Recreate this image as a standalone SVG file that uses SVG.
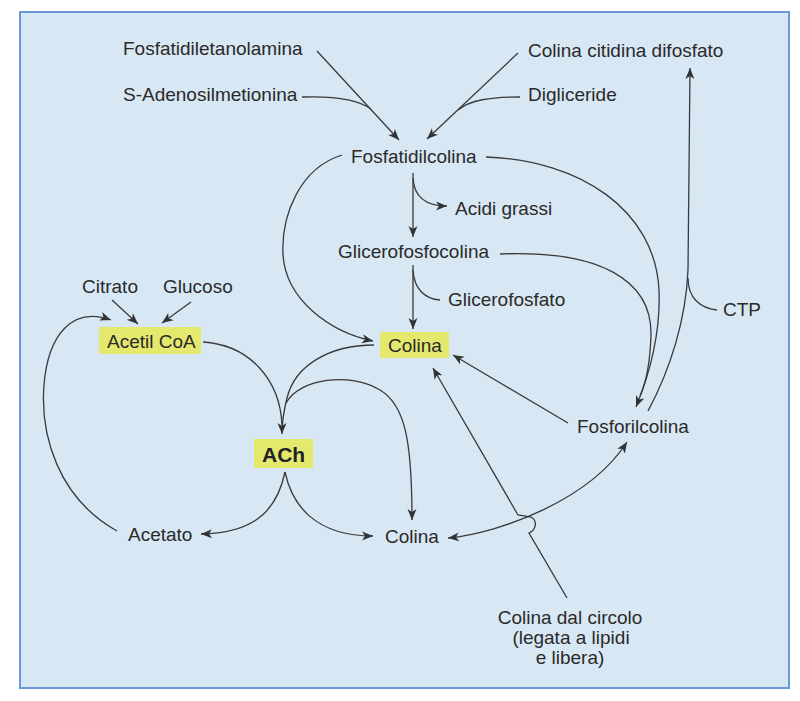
<svg xmlns="http://www.w3.org/2000/svg" width="800" height="701" viewBox="0 0 800 701">
<style>
.t{font-family:"Liberation Sans",Arial,sans-serif;font-size:19px;fill:#2a2a2a}
.b{font-family:"Liberation Sans",Arial,sans-serif;font-size:21px;font-weight:bold;fill:#222}
.c{fill:none;stroke:#3a3a3a;stroke-width:1.3}
.a{marker-end:url(#ah)}
.box{fill:#e4e96e}
</style>
<defs>
<marker id="ah" markerUnits="userSpaceOnUse" markerWidth="12" markerHeight="10" refX="11" refY="4.5" orient="auto-start-reverse" viewBox="0 0 12 9">
<path d="M0,0 L11,4.5 L0,9 L3,4.5 z" fill="#333"/>
</marker>
</defs>
<rect x="0" y="0" width="800" height="701" fill="#ffffff"/>
<rect x="20" y="12" width="769" height="676" fill="#d8e7f4" stroke="#6a98d8" stroke-width="2"/>

<g id="connectors">
<path class="c a" d="M317,51 L399,140"/>
<path class="c" d="M302,97 C330,96 356,98 371,109"/>
<path class="c a" d="M518,53 L427,139"/>
<path class="c" d="M520,97 C490,97 470,100 458,110"/>
<path class="c a" d="M413,173 L413,237"/>
<path class="c a" d="M413,178 C414,196 425,206 447,206"/>
<path class="c a" d="M413,265 L413,329"/>
<path class="c" d="M413,270 C414,289 425,299 440,300"/>
<path class="c a" d="M342,155 C300,168 281,215 283,255 C286,300 330,332 373,341"/>
<path class="c a" d="M486,157 C580,160 655,210 659,290 C661,340 645,385 636,407"/>
<path class="c" d="M500,254 C600,250 652,280 651,335 C650,365 645,385 640,396"/>
<path class="c a" d="M648,411 C670,370 686,320 688,270 L690,68"/>
<path class="c" d="M688,278 C688,298 700,308 717,310"/>
<path class="c a" d="M568,423 L453,355"/>
<path class="c a" d="M567,598 L529,533 C536,530 538,521 531,517 L518,515 L433,368"/>
<path class="c a" d="M627,442 C590,500 500,533 448,538" style="marker-start:url(#ah)"/>
<path class="c a" d="M374,345 C330,345 295,365 287,398 C284,410 282,420 282,434"/>
<path class="c" d="M203,342 C250,345 280,380 282,425"/>
<path class="c a" d="M286,403 C300,378 350,372 380,390 C405,405 412,440 412,520"/>
<path class="c a" d="M285,472 C278,505 260,533 201,534"/>
<path class="c a" d="M285,472 C292,505 315,536 373,536"/>
<path class="c a" d="M117,531 C58,498 40,435 44,385 C48,335 72,306 111,320"/>
<path class="c a" d="M112,300 L138,324"/>
<path class="c a" d="M191,302 L162,323"/>
</g>

<g id="n-fosfatidiletanolamina"><text class="t" x="123" y="55">Fosfatidiletanolamina</text></g>
<g id="n-sadenosil"><text class="t" x="123" y="101">S-Adenosilmetionina</text></g>
<g id="n-ccdp"><text class="t" x="528" y="57">Colina citidina difosfato</text></g>
<g id="n-digliceride"><text class="t" x="528" y="101">Digliceride</text></g>
<g id="n-fosfatidilcolina"><text class="t" x="351" y="163">Fosfatidilcolina</text></g>
<g id="n-acidi"><text class="t" x="455" y="215">Acidi grassi</text></g>
<g id="n-glicerofosfocolina"><text class="t" x="338" y="258">Glicerofosfocolina</text></g>
<g id="n-glicerofosfato"><text class="t" x="448" y="306">Glicerofosfato</text></g>
<g id="n-ctp"><text class="t" x="723" y="316">CTP</text></g>
<g id="n-citrato"><text class="t" x="82" y="293">Citrato</text></g>
<g id="n-glucoso"><text class="t" x="163" y="293">Glucoso</text></g>
<g id="n-acetilcoa"><rect class="box" x="99" y="327" width="102" height="27"/><text class="t" x="107" y="348">Acetil CoA</text></g>
<g id="n-colina1"><rect class="box" x="380" y="332" width="69" height="26"/><text class="t" x="388" y="352">Colina</text></g>
<g id="n-ach"><rect class="box" x="254" y="439" width="59" height="29"/><text class="b" x="262" y="462">ACh</text></g>
<g id="n-fosforilcolina"><text class="t" x="577" y="433">Fosforilcolina</text></g>
<g id="n-acetato"><text class="t" x="128" y="541">Acetato</text></g>
<g id="n-colina2"><text class="t" x="385" y="543">Colina</text></g>
<g id="n-circolo"><text class="t" text-anchor="middle" x="570" y="624">Colina dal circolo</text><text class="t" text-anchor="middle" x="571" y="644">(legata a lipidi</text><text class="t" text-anchor="middle" x="570" y="664">e libera)</text></g>
</svg>
